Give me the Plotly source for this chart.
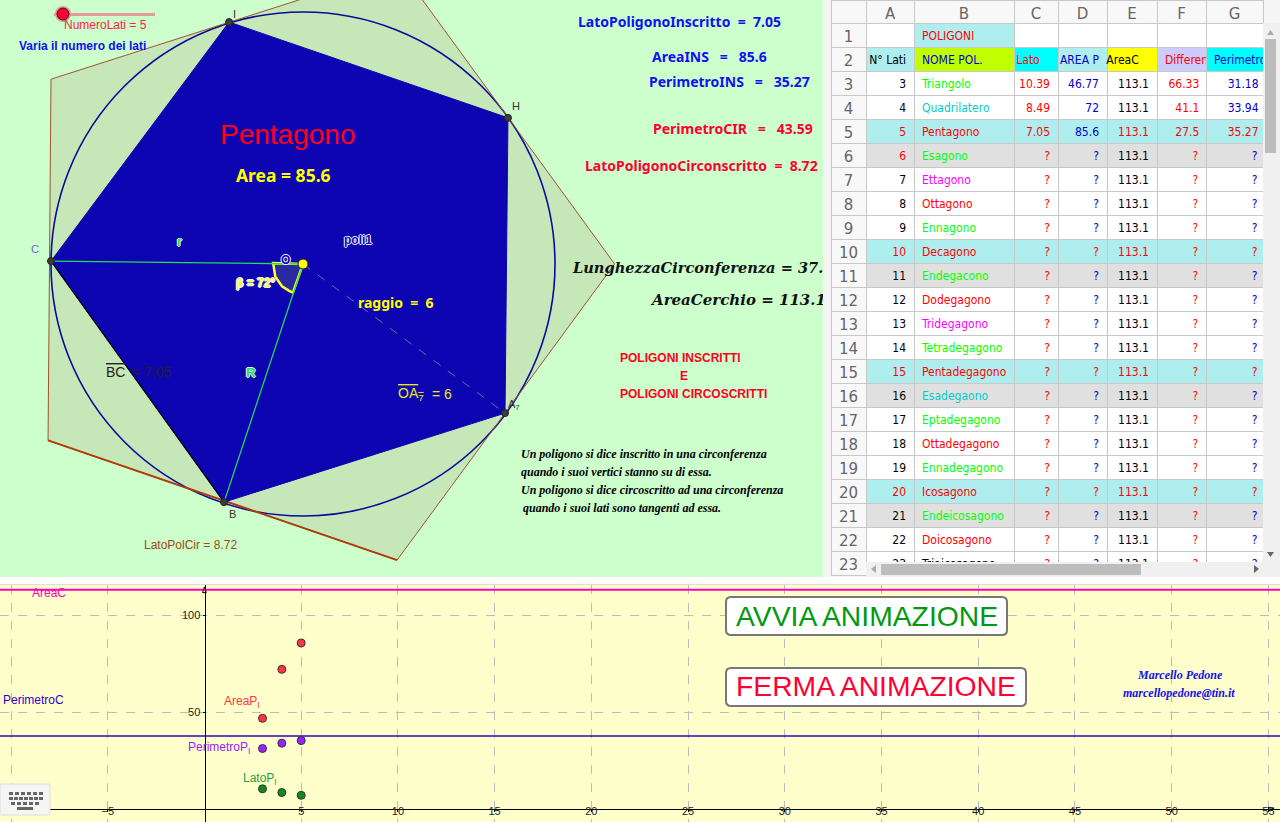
import plotly.graph_objects as go

# --- geometry panel (units, centre of the circle at 0,0)
inner_x = [-1.76, 4.88, 4.81, -1.88, -6.0, -1.76]
inner_y = [5.76, 3.48, -3.55, -5.67, 0.07, 5.76]
outer_x = [7.42, 2.29, -6.0, -6.07, 2.24, 7.42]
outer_y = [0.0, 7.05, 4.4, -4.2, -7.05, 0.0]
vertex_names = ["I", "H", "A7", "B", "C"]
arc_x = [-0.71, -0.66, -0.5, -0.33, -0.24]
arc_y = [0.02, -0.3, -0.53, -0.64, -0.68]
radius = 6.0

# --- spreadsheet
sides = [3, 4, 5, 6, 7, 8, 9, 10, 11, 12, 13, 14, 15, 16, 17, 18, 19, 20, 21, 22, 23]
names = ["Triangolo", "Quadrilatero", "Pentagono", "Esagono", "Ettagono", "Ottagono", "Ennagono",
         "Decagono", "Endegacono", "Dodegagono", "Tridegagono", "Tetradegagono", "Pentadegagono",
         "Esadegaono", "Eptadegagono", "Ottadegagono", "Ennadegagono", "Icosagono", "Endeicosagono",
         "Doicosagono", "Triaicosagono"]
name_colors = ["#00FF00", "#00CCCC", "#FF0000", "#00FF00", "#FF00FF", "#FF0000", "#00FF00", "#FF0000",
               "#00FF00", "#FF0000", "#FF00FF", "#00FF00", "#FF0000", "#00CCCC", "#00FF00", "#FF0000",
               "#00FF00", "#FF0000", "#00FF00", "#FF0000", "#000000"]
lato = ["10.39", "8.49", "7.05"]
area_p = ["46.77", "72", "85.6"]
area_c = "113.1"
differenza = ["66.33", "41.1", "27.5"]
perimetro = ["31.18", "33.94", "35.27"]
col_letters = ["", "A", "B", "C", "D", "E", "F", "G"]

# --- bottom graph
graph_n = [3, 4, 5]
graph_area = [46.77, 72, 85.6]
graph_perimetro = [31.18, 33.94, 35.27]
graph_lato = [10.39, 8.49, 7.05]
area_cerchio = 113.1
perimetro_cerchio = 37.7
x_ticks = [-10, -5, 5, 10, 15, 20, 25, 30, 35, 40, 45, 50, 55]
x_tick_labels = ["", "\u22125", "5", "10", "15", "20", "25", "30", "35", "40", "45", "50", "55"]
y_ticks = [50, 100]

W, H = 1280, 822
def px(x): return x / W
def py(y): return 1 - y / H
def gx(x): return (x - 303) / 42
def gy(y): return (264 - y) / 42
def pad(s, n): return "\u00a0" * n + s
def tail(s, n): return s + "\u00a0" * n
def eq(name, val, n=1): return name + "\u00a0" * n + " = " + "\u00a0" * n + val

BG_TOP = "#CCFFCC"
BG_BOTTOM = "#FFFFCC"
BLUE = "#0D05B2"
SANS = "Liberation Sans"
SERIF = "Liberation Serif"
MATH = "Noto Sans"
CELL = "DejaVu Sans Condensed, DejaVu Sans"

fig = go.Figure()

# geometry
fig.add_trace(go.Scatter(x=outer_x, y=outer_y, mode="lines", line=dict(color="#A0522D", width=1), xaxis="x", yaxis="y"))
fig.add_trace(go.Scatter(x=outer_x[3:5], y=outer_y[3:5], mode="lines", line=dict(color="#B03A0A", width=2), xaxis="x", yaxis="y"))
fig.add_trace(go.Scatter(x=inner_x, y=inner_y, mode="lines", fill="toself", fillcolor=BLUE, line=dict(color=BLUE, width=1), xaxis="x", yaxis="y"))
fig.add_trace(go.Scatter(x=inner_x[3:5], y=inner_y[3:5], mode="lines", line=dict(color="#000000", width=1.2), xaxis="x", yaxis="y"))
fig.add_trace(go.Scatter(x=[0] + arc_x + [0], y=[0] + arc_y + [0], mode="lines", fill="toself", fillcolor="#2A2AA0",
                         line=dict(color="#FFFF33", width=2.5), xaxis="x", yaxis="y"))
fig.add_trace(go.Scatter(x=[inner_x[4], 0, inner_x[3]], y=[inner_y[4], 0, inner_y[3]], mode="lines",
                         line=dict(color="#22DD55", width=1.3), xaxis="x", yaxis="y"))
fig.add_trace(go.Scatter(x=[0, inner_x[2]], y=[0, inner_y[2]], mode="lines",
                         line=dict(color="#6A6A9A", width=1, dash="dash"), xaxis="x", yaxis="y"))
fig.add_trace(go.Scatter(x=inner_x[:5], y=inner_y[:5], mode="markers", text=vertex_names,
                         marker=dict(color="#3A3F3A", size=7, line=dict(color="#222222", width=1)), xaxis="x", yaxis="y"))
fig.add_trace(go.Scatter(x=[0], y=[0], mode="markers", marker=dict(color="#FFFF00", size=10, line=dict(color="#222222", width=1)),
                         xaxis="x", yaxis="y"))
# these two run under the spreadsheet edge, so they are clipped on the axes
fig.add_trace(go.Scatter(x=[gx(573), gx(652)], y=[gy(269), gy(301)], mode="text",
                         text=["LunghezzaCirconferenza = 37.7", "AreaCerchio = 113.1"], textposition="middle right",
                         textfont=dict(family="DejaVu Serif", size=[14.6, 15], color="#111111", style="italic", weight="bold"),
                         cliponaxis=True, xaxis="x", yaxis="y"))

# spreadsheet
row_numbers = [str(i) for i in range(1, 24)]
q = ["?"] * 18
col_a = ["", "N°\u00a0Lati"] + [str(n) for n in sides]
col_b = ["POLIGONI", "NOME\u00a0POL."] + names
col_c = ["", tail("Lato", 3)] + lato + q
col_d = ["", "AREA\u00a0P"] + area_p + q
col_e = ["", tail("AreaC", 3)] + [area_c] * 21
col_f = ["", "Differenza", pad(differenza[0], 1), pad(differenza[1], 3), pad(differenza[2], 3)] + [pad("?", 8)] * 18
col_g = ["", "Perimetro"] + [pad(v, 4) for v in perimetro] + [pad("?", 11)] * 18

CY = "#AFEEEE"
GR = "#E0E0E0"
row_fill = []
for n in sides:
    row_fill.append(CY if n % 5 == 0 else (GR if n % 5 == 1 and n > 5 else "#FFFFFF"))
fills = [
    ["#F8F8F8"] * 23,
    ["#FFFFFF", CY] + row_fill,
    [CY, "#BFFF00"] + row_fill,
    ["#FFFFFF", "#00FFFF"] + row_fill,
    ["#FFFFFF", CY] + row_fill,
    ["#FFFFFF", "#FFFF00"] + row_fill,
    ["#FFFFFF", "#CCCCFF"] + row_fill,
    ["#FFFFFF", "#00FFFF"] + row_fill,
]
RED, DB = "#FF0000", "#0000CC"
fonts = [
    ["#666666"] * 23,
    ["#000000"] * 2 + [RED if n % 5 == 0 or n == 6 else "#000000" for n in sides],
    [RED, DB] + name_colors,
    ["#000000", RED] + [RED] * 21,
    ["#000000", DB] + [RED if n % 5 == 0 and n > 5 else DB for n in sides],
    ["#000000", "#000000"] + [RED if n % 5 == 0 else "#000000" for n in sides],
    ["#000000", RED] + [RED] * 21,
    ["#000000", DB] + [RED if n % 5 == 0 else DB for n in sides],
]
aligns = ["center", "right", "left", "right", "right", "right", "left", "left"]
fig.add_trace(go.Table(
    domain=dict(x=[px(831), px(1263)], y=[py(576), 1]),
    columnwidth=[35, 48, 100, 44, 49, 50, 49, 57],
    header=dict(values=col_letters, height=23, fill_color="#F8F8F8", line_color="#C8C8C8",
                font=dict(family="DejaVu Sans", size=15, color="#666666"), align="center"),
    cells=dict(values=[row_numbers, col_a, col_b, col_c, col_d, col_e, col_f, col_g], height=24,
               fill_color=fills, line_color="#C8C8C8", align=aligns,
               font=dict(family=["DejaVu Sans"] + [CELL] * 7, size=[15, 12, 12, 12, 12, 12, 12, 12], color=fonts)),
))

# bottom graph
fig.add_trace(go.Scatter(x=[-10.6, 55.6], y=[area_cerchio] * 2, mode="lines", line=dict(color="#FF00BB", width=2), xaxis="x2", yaxis="y2"))
fig.add_trace(go.Scatter(x=[-10.6, 55.6], y=[perimetro_cerchio] * 2, mode="lines", line=dict(color="#3300CC", width=1.5), xaxis="x2", yaxis="y2"))
for vals, col in [(graph_area, "#FF3344"), (graph_perimetro, "#9922FF"), (graph_lato, "#118822")]:
    fig.add_trace(go.Scatter(x=graph_n, y=vals, mode="markers", xaxis="x2", yaxis="y2",
                             marker=dict(color=col, size=8, line=dict(color="#333333", width=1))))
# axis arrow heads
fig.add_trace(go.Scatter(x=[0, 55.3], y=[114.5, 0], mode="markers", xaxis="x2", yaxis="y2", cliponaxis=False,
                         marker=dict(symbol="arrow-open", angle=[0, 90], size=6, color="#000000", line=dict(color="#000000", width=1))))

shapes = [
    dict(type="rect", xref="paper", yref="paper", x0=0, x1=px(823), y0=py(577), y1=1, fillcolor=BG_TOP, line_width=0, layer="below"),
    dict(type="rect", xref="paper", yref="paper", x0=px(823), x1=1, y0=py(577), y1=1, fillcolor="#F5F5F5", line_width=0, layer="below"),
    dict(type="rect", xref="paper", yref="paper", x0=0, x1=1, y0=0, y1=py(585), fillcolor=BG_BOTTOM, line_width=0, layer="below"),
    dict(type="rect", xref="paper", yref="paper", x0=0, x1=1, y0=py(585), y1=py(584), fillcolor="#DDDDDD", line_width=0, layer="below"),
    # circumscribed fill and circle sit under the traces
    dict(type="path", xref="x", yref="y", layer="between", line_width=0, fillcolor="#C6E8B8",
         path="M " + " L ".join(f"{a},{b}" for a, b in zip(outer_x, outer_y)) + " Z"),
    dict(type="circle", xref="x", yref="y", x0=-radius, x1=radius, y0=-radius, y1=radius, layer="between",
         line=dict(color="#0A0A9A", width=1.6)),
]

def rrect(x0, y0, x1, y1, r=5, fill="#FFFFFF", line="#777777", w=2):
    pts = (f"M {px(x0+r)},{py(y0)} L {px(x1-r)},{py(y0)} Q {px(x1)},{py(y0)} {px(x1)},{py(y0+r)} "
           f"L {px(x1)},{py(y1-r)} Q {px(x1)},{py(y1)} {px(x1-r)},{py(y1)} L {px(x0+r)},{py(y1)} "
           f"Q {px(x0)},{py(y1)} {px(x0)},{py(y1-r)} L {px(x0)},{py(y0+r)} Q {px(x0)},{py(y0)} {px(x0+r)},{py(y0)} Z")
    return dict(type="path", xref="paper", yref="paper", path=pts, fillcolor=fill, line=dict(color=line, width=w), layer="above")

def box(x0, y0, x1, y1, fill):
    return dict(type="rect", xref="paper", yref="paper", x0=px(x0), x1=px(x1), y0=py(y1), y1=py(y0), fillcolor=fill, line_width=0, layer="above")

def tri(a, b, c, fill="#666666"):
    pts = " L ".join(f"{px(x)},{py(y)}" for x, y in (a, b, c))
    return dict(type="path", xref="paper", yref="paper", path=f"M {pts} Z", fillcolor=fill, line_width=0, layer="above")

shapes += [rrect(726, 597, 1007, 635), rrect(726, 668, 1026, 706)]
# slider
shapes += [box(54, 13, 155, 16, "#E59A9A")]
shapes += [dict(type="circle", xref="paper", yref="paper", x0=px(55), x1=px(71), y0=py(22), y1=py(6), fillcolor="#E59A9A", line_width=0, layer="above"),
           dict(type="circle", xref="paper", yref="paper", x0=px(57), x1=px(69), y0=py(20), y1=py(8), fillcolor="#FF0033", line=dict(color="#222222", width=1), layer="above")]
# scrollbars of the sheet
shapes += [box(1263, 23, 1280, 577, "#F0F0F0"), box(1265, 39, 1276, 153, "#BDBDBD"),
           box(866, 562, 1263, 577, "#F0F0F0"), box(881, 564, 1141, 575, "#BDBDBD"),
           tri((1267, 35), (1274, 35), (1270.5, 30), "#AAAAAA"), tri((1267, 552), (1274, 552), (1270.5, 557)),
           tri((876, 565), (876, 573), (871, 569), "#AAAAAA"), tri((1254, 565), (1254, 573), (1259, 569))]
# on-screen keyboard button
shapes += [rrect(0, 784, 50, 815, r=1, fill="#F5F5F5", line="#DDDDDD", w=1)]
for y0, xs in [(792, range(9, 41, 6)), (797, range(9, 41, 5)), (802, range(11, 41, 6))]:
    shapes += [box(x, y0, x + 4, y0 + 3, "#666666") for x in xs]
shapes += [box(17, 807, 33, 810, "#666666")]

def label(x, y, text, color, size, family=SANS, bold=False, italic=False, anchor="left", shadow=None, over=False):
    font = dict(family=family, size=size, color=color, weight="bold" if bold else "normal", style="italic" if italic else "normal")
    if shadow:
        font["shadow"] = shadow
    if over:
        font["lineposition"] = "over"
    return dict(xref="paper", yref="paper", x=px(x), y=py(y), text=text, showarrow=False, xanchor=anchor, yanchor="middle", font=font)

halo = "1px 0 0 #E8F4FF, -1px 0 0 #E8F4FF, 0 1px 0 #E8F4FF, 0 -1px 0 #E8F4FF"
notes = [
    label(62, 25, "NumeroLati = 5", "#FF2244", 12),
    label(17, 46, "Varia il numero dei lati", "#1111EE", 12, bold=True),
    label(287, 135, "Pentagono", "#FF0011", 28, anchor="center"),
    label(283, 175, "Area = 85.6", "#FFFF00", 17.5, MATH, bold=True, anchor="center"),
    label(179, 242, "r", "#22DD55", 12, bold=True, anchor="center", shadow=halo),
    label(358, 240, "poli1", "#0D05B2", 12, bold=True, anchor="center", shadow=halo),
    label(255, 283, "β = 72°", "#FFFF33", 12, bold=True, anchor="center", shadow=halo),
    label(285, 260, "O", "#0D05B2", 12, bold=True, anchor="center", shadow=halo),
    label(251, 373, "R", "#22DD55", 13, bold=True, anchor="center", shadow=halo),
    label(356, 302, eq("raggio", "6"), "#FFFF00", 14, MATH, bold=True),
    label(396, 394, "OA<sub>7</sub>", "#E8E820", 14, over=True),
    label(430, 394, "= 6", "#E8E820", 14),
    label(104, 372, "BC", "#222222", 14, over=True),
    label(130, 372, "= 7.05", "#222222", 14),
    label(142, 545, "LatoPolCir = 8.72", "#A04A14", 12),
    label(232, 514, "B", "#333333", 11, anchor="center"),
    label(516, 106, "H", "#333333", 11, anchor="center"),
    label(234, 14, "I", "#333333", 11, anchor="center"),
    label(35, 249, "C", "#6666DD", 11, anchor="center"),
    label(514, 405, "A<sub>7</sub>", "#333333", 11, anchor="center"),
    label(576, 21, eq("LatoPoligonoInscritto", "7.05"), "#1111EE", 14, MATH, bold=True),
    label(650, 56, eq("AreaINS", "85.6", 2), "#1111EE", 14, MATH, bold=True),
    label(647, 82, eq("PerimetroINS", "35.27", 2), "#1111EE", 14, MATH, bold=True),
    label(651, 128, eq("PerimetroCIR", "43.59", 2), "#FF0033", 14, MATH, bold=True),
    label(583, 166, eq("LatoPoligonoCirconscritto", "8.72"), "#FF0033", 14, MATH, bold=True),
    label(618, 358, "POLIGONI INSCRITTI", "#FF0022", 12, bold=True),
    label(684, 376, "E", "#FF0022", 12, bold=True, anchor="center"),
    label(618, 394, "POLIGONI CIRCOSCRITTI", "#FF0022", 12, bold=True),
    label(519, 454, "Un poligono si dice inscritto in una circonferenza", "#000000", 12, SERIF, bold=True, italic=True),
    label(519, 472, "quando i suoi vertici stanno su di essa.", "#000000", 12, SERIF, bold=True, italic=True),
    label(519, 490, "Un poligono si dice circoscritto ad una circonferenza", "#000000", 12, SERIF, bold=True, italic=True),
    label(521, 508, "quando i suoi lati sono tangenti ad essa.", "#000000", 12, SERIF, bold=True, italic=True),
    label(867, 615.5, "AVVIA ANIMAZIONE", "#009911", 28.3, anchor="center"),
    label(876, 685.5, "FERMA ANIMAZIONE", "#FF0033", 28.3, anchor="center"),
    label(1180, 675, "Marcello Pedone", "#1111EE", 12, SERIF, bold=True, italic=True, anchor="center"),
    label(1179, 693, "marcellopedone@tin.it", "#1111EE", 12, SERIF, bold=True, italic=True, anchor="center"),
    label(30, 593, "AreaC", "#FF00BB", 12),
    label(1, 700, "PerimetroC", "#3300CC", 12),
    label(222, 702, "AreaP<sub>I</sub>", "#FF3344", 12),
    label(186, 748, "PerimetroP<sub>I</sub>", "#9922FF", 12),
    label(241, 779, "LatoP<sub>I</sub>", "#1AA33A", 12),
]

fig.update_layout(
    width=W, height=H, margin=dict(l=0, r=0, t=0, b=0, autoexpand=False), showlegend=False, hovermode=False,
    paper_bgcolor="#FFFFFF", plot_bgcolor="rgba(0,0,0,0)", shapes=shapes, annotations=notes,
    xaxis=dict(domain=[0, px(823)], range=[gx(0), gx(823)], visible=False),
    yaxis=dict(domain=[py(577), 1], range=[gy(577), gy(0)], visible=False),
    xaxis2=dict(domain=[0, 1], range=[-10.57, 55.6], anchor="free", position=13 / H, tickvals=x_ticks, ticktext=x_tick_labels,
                showline=True, linecolor="#000000", linewidth=1, zeroline=False, ticks="outside", ticklen=2, ticklabelstandoff=-10,
                tickcolor="#000000", showgrid=True, gridcolor="#BBBBBB", griddash="dash", gridwidth=1,
                tickfont=dict(family=SANS, size=11, color="#222222")),
    yaxis2=dict(domain=[0, py(585)], range=[-6.7, 115.5], anchor="free", position=px(204.5), tickvals=y_ticks,
                showline=True, linecolor="#000000", linewidth=1, zeroline=False, ticks="outside", ticklen=2,
                tickcolor="#000000", showgrid=True, gridcolor="#BBBBBB", griddash="dash", gridwidth=1,
                tickfont=dict(family=SANS, size=11, color="#222222")),
)

fig.write_html("out.html", config=dict(displayModeBar=False), post_script="document.body.style.margin='0';")
